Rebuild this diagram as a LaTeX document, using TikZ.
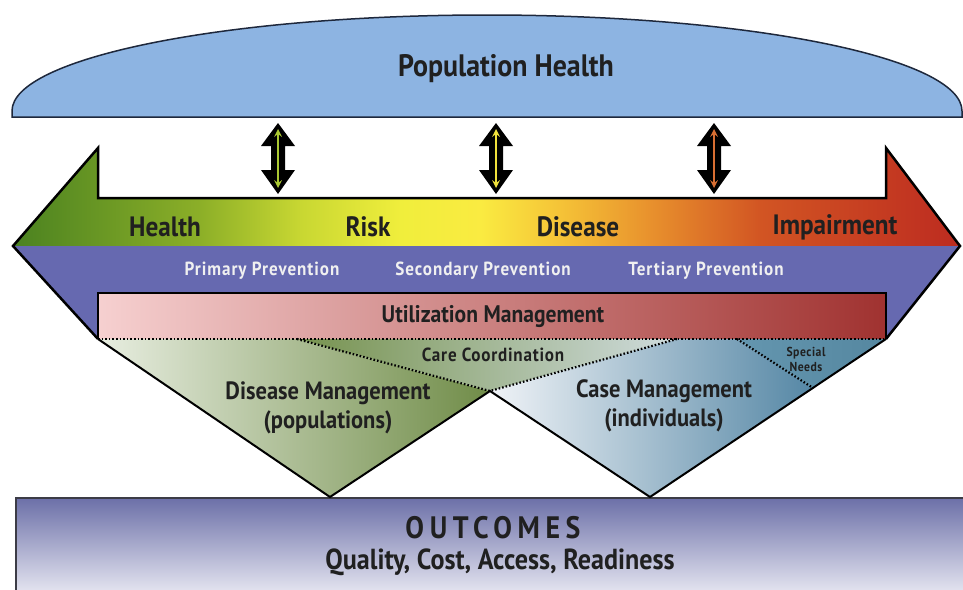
\documentclass[tikz,border=0pt]{standalone}
\usepackage{fontspec}
\setmainfont{PT Sans}[FakeStretch=0.9]
\usetikzlibrary{calc}

\definecolor{domeblue}{RGB}{141,180,226}
\definecolor{domeline}{RGB}{30,40,60}
\definecolor{bandblue}{RGB}{102,105,176}
\definecolor{inkdark}{RGB}{32,32,32}
\definecolor{specA}{RGB}{72,128,32}
\definecolor{specB}{RGB}{140,175,40}
\definecolor{specC}{RGB}{200,215,50}
\definecolor{specD}{RGB}{240,238,60}
\definecolor{specE}{RGB}{250,235,65}
\definecolor{specF}{RGB}{245,195,55}
\definecolor{specG}{RGB}{232,145,45}
\definecolor{specH}{RGB}{210,85,35}
\definecolor{specI}{RGB}{188,42,32}
\definecolor{utilL}{RGB}{246,208,208}
\definecolor{utilR}{RGB}{160,50,48}
\definecolor{dmlight}{RGB}{232,238,225}
\definecolor{dmdark}{RGB}{112,140,72}
\definecolor{ccdark}{RGB}{118,146,78}
\definecolor{cclight}{RGB}{208,220,222}
\definecolor{cmlight}{RGB}{240,243,247}
\definecolor{cmdark}{RGB}{85,135,165}
\definecolor{snleft}{RGB}{100,150,175}
\definecolor{snright}{RGB}{85,135,160}
\definecolor{outtop}{RGB}{108,112,168}
\definecolor{outbot}{RGB}{238,238,246}
\definecolor{outline}{RGB}{60,60,70}
\definecolor{arrowA}{RGB}{170,200,50}
\definecolor{arrowB}{RGB}{240,225,60}
\definecolor{arrowC}{RGB}{215,110,50}

\tikzset{
	bigtext/.style={text=inkdark, font=\fontsize{31}{35}\selectfont\bfseries},
	bandtext/.style={text=inkdark, font=\fontsize{28}{32}\selectfont\bfseries},
	prevtext/.style={text=white!94!black, font=\fontsize{19}{22}\selectfont\bfseries\addfontfeature{LetterSpace=5}},
	bartext/.style={text=inkdark, font=\fontsize{24}{28}\selectfont\bfseries},
	caretext/.style={text=inkdark, font=\fontsize{19}{22}\selectfont\bfseries\addfontfeature{LetterSpace=4}},
	midtext/.style={text=inkdark, align=center, font=\fontsize{25}{29}\selectfont\bfseries},
	tinytext/.style={text=inkdark, align=center, font=\fontsize{13}{15}\selectfont\bfseries\addfontfeature{LetterSpace=4}},
	dots/.style={line width=2.2pt, dash pattern=on 1.6pt off 2pt},
}

% fat black double arrow with a thin coloured one inside
\def\dblarrow(#1)[#2]{%
	\fill[black] (#1,123) -- (#1+17,146) -- (#1+7,146) -- (#1+7,170) -- (#1+17,170) -- (#1,194) -- (#1-17,170) -- (#1-7,170) -- (#1-7,146) -- (#1-17,146) -- cycle;
	\draw[#2, line width=2.4pt, <->, >=stealth] (#1,129) -- (#1,188);}

\begin{document}
\begin{tikzpicture}[x=1pt, y=-1pt]
	%%%%% START %%%%%
	\useasboundingbox (0,0) rectangle (963,589);

	% population health
	\draw[fill=domeblue, draw=domeline, line width=1.5pt] (12,117) -- (12,111) arc[start angle=180, end angle=360, x radius=475, y radius=96] -- (962,117) -- cycle;
	\node[bigtext] (pop) at (506,69) {Population Health};

	\dblarrow(278)[arrowA]
	\dblarrow(496)[arrowB]
	\dblarrow(714)[arrowC]

	% the spectrum arrow
	\begin{scope}
		\clip (13,246) -- (98,148) -- (98,198) -- (886,198) -- (886,148) -- (960,246) -- cycle;
		\shade[left color=specA, right color=specB] (5,140) rectangle (200.5,250);
		\shade[left color=specB, right color=specC] (200,140) rectangle (300.5,250);
		\shade[left color=specC, right color=specD] (300,140) rectangle (400.5,250);
		\shade[left color=specD, right color=specE] (400,140) rectangle (480.5,250);
		\shade[left color=specE, right color=specF] (480,140) rectangle (560.5,250);
		\shade[left color=specF, right color=specG] (560,140) rectangle (650.5,250);
		\shade[left color=specG, right color=specH] (650,140) rectangle (760.5,250);
		\shade[left color=specH, right color=specI] (760,140) rectangle (965,250);
	\end{scope}
	\fill[bandblue] (13,246) -- (960,246) -- (886,339) -- (98,339) -- cycle;
	\draw[line width=2.5pt] (98,339) -- (13,246) -- (98,148) -- (98,198) -- (886,198) -- (886,148) -- (960,246) -- (886,339);

	\node[bandtext] (health) at (165,227) {Health};
	\node[bandtext] (risk) at (368,227) {Risk};
	\node[bandtext] (disease) at (578,227) {Disease};
	\node[bandtext] (impair) at (835,227) {Impairment};

	\node[prevtext] (primary) at (262,271) {Primary Prevention};
	\node[prevtext] (secondary) at (483,271) {Secondary Prevention};
	\node[prevtext] (tertiary) at (706,271) {Tertiary Prevention};

	% utilization bar
	\shade[left color=utilL, right color=utilR] (98,293) rectangle (886,339);
	\draw[line width=2.5pt] (98,339) -- (98,293) -- (886,293) -- (886,339);
	\node[bartext] (util) at (493,317) {Utilization Management};

	% the two triangles
	\coordinate (cross) at (490,391);
	\shade[left color=dmlight, right color=dmdark] (98,339) -- (297,339) -- (cross) -- (330,497) -- cycle;
	\shade[left color=ccdark, right color=cclight] (297,339) -- (677,339) -- (cross) -- cycle;
	\shade[left color=cmlight, right color=cmdark] (cross) -- (677,339) -- (737,339) -- (813,388) -- (650,497) -- cycle;
	\shade[left color=snleft, right color=snright] (737,339) -- (886,339) -- (813,388) -- cycle;

	% outcomes
	\shade[top color=outtop, bottom color=outbot, draw=outline, line width=2pt] (16,498) rectangle (975,600);

	\draw[line width=2pt] (98,339) -- (330,497) -- (cross) -- (650,497) -- (886,339);
	\draw[dots] (98,339) -- (886,339);
	\draw[dots] (297,339) -- (cross) -- (677,339);
	\draw[dots] (737,339) -- (813,388);

	\node[caretext] (care) at (493,355) {Care Coordination};
	\node[midtext] (dm) at (328,408) {Disease Management\\(populations)};
	\node[midtext] (cm) at (664,406) {Case Management\\(individuals)};
	\node[tinytext] (special) at (806,359) {Special\\Needs};

	\node[text=inkdark, font=\fontsize{31}{35}\selectfont\bfseries\addfontfeature{LetterSpace=18}] (out) at (493,528) {OUTCOMES};
	\node[text=inkdark, font=\fontsize{29}{32}\selectfont\bfseries] (qual) at (500,562) {Quality, Cost, Access, Readiness};

	%%%%% END %%%%%
\end{tikzpicture}
\end{document}
